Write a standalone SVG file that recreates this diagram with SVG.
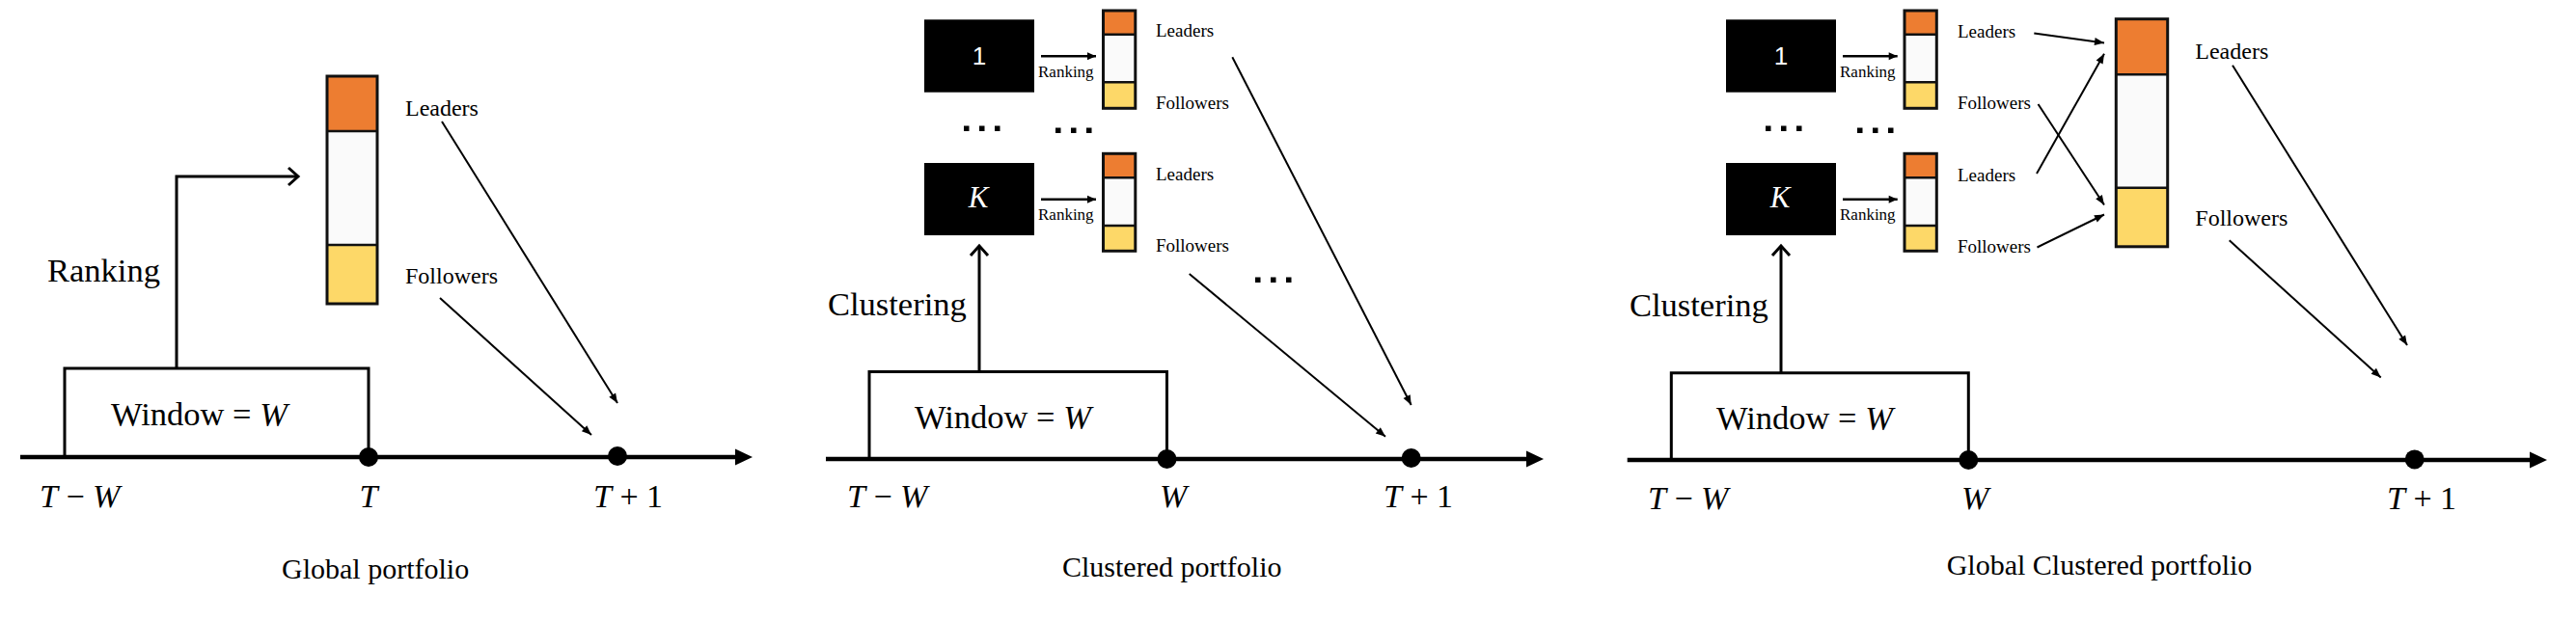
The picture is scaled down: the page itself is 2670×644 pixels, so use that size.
<svg xmlns="http://www.w3.org/2000/svg" width="2670" height="644" viewBox="0 0 2670 644">
<style>
.t{font-family:"Liberation Serif","Times New Roman",serif;fill:#000}
.m{font-family:"Liberation Serif","Times New Roman",serif;fill:#000;font-size:34px}
.i{font-style:italic}
.lbl{font-size:24px}
.sl{font-size:19px}
.rk{font-size:17px}
.cap{font-size:30px}
.big{font-size:34.5px}
.ax{stroke:#000;stroke-width:4.5;fill:none}
.win{stroke:#000;stroke-width:3;fill:none}
.thin{stroke:#000;stroke-width:2;fill:none}
.mid{stroke:#000;stroke-width:2.5;fill:none}
.up{stroke:#000;stroke-width:3;fill:none}
.or{fill:#ED7D31}
.wh{fill:#FAFAFA}
.ye{fill:#FDD868}
.bo{fill:none;stroke:#111;stroke-width:3}
.sep{stroke:#111;stroke-width:2.5}
.blk{fill:#000}
.one{font-family:"Liberation Sans",Arial,sans-serif;font-size:26px;fill:#fff}
.kk{font-family:"Liberation Serif",serif;font-style:italic;font-size:31px;fill:#fff}
</style>
<defs>
<marker id="ah" markerUnits="userSpaceOnUse" markerWidth="20" markerHeight="20" viewBox="0 0 20 20" refX="18" refY="10" orient="auto">
<path d="M8,6 L18,10 L8,14 Z" fill="#000"/>
</marker>
<marker id="rk" markerUnits="userSpaceOnUse" markerWidth="20" markerHeight="20" viewBox="0 0 20 20" refX="18" refY="10" orient="auto">
<path d="M9,6 L18,10 L9,14 Z" fill="#000"/>
</marker>
<marker id="op" markerUnits="userSpaceOnUse" markerWidth="24" markerHeight="24" viewBox="0 0 24 24" refX="21" refY="12" orient="auto">
<path d="M11,3 L21,12 L11,21" fill="none" stroke="#000" stroke-width="3"/>
</marker>
<marker id="ax" markerUnits="userSpaceOnUse" markerWidth="24" markerHeight="24" viewBox="0 0 24 24" refX="10" refY="12" orient="auto">
<path d="M0,3.5 L18,12 L0,20.5 Z" fill="#000"/>
</marker>
</defs>

<!-- ================= Panel 1: Global portfolio ================= -->
<g id="p1-timeline">
<line class="ax" x1="21" y1="474" x2="772" y2="474" marker-end="url(#ax)"/>
<circle cx="382" cy="474" r="10" fill="#000"/>
<circle cx="640" cy="473" r="10" fill="#000"/>
<text class="m" x="41" y="526"><tspan class="i">T</tspan> − <tspan class="i">W</tspan></text>
<text class="m i" x="382" y="526" text-anchor="middle">T</text>
<text class="m" x="615" y="526"><tspan class="i">T</tspan> + 1</text>
</g>
<g id="p1-window">
<path class="win" d="M67,474 V382 H382 V474"/>
<text class="t big" x="115" y="441">Window = <tspan class="i">W</tspan></text>
</g>
<g id="p1-bar">
<rect class="or" x="339" y="79" width="52" height="57"/>
<rect class="wh" x="339" y="136" width="52" height="118"/>
<rect class="ye" x="339" y="254" width="52" height="61"/>
<line class="sep" x1="339" y1="136" x2="391" y2="136"/>
<line class="sep" x1="339" y1="254" x2="391" y2="254"/>
<rect class="bo" x="339" y="79" width="52" height="236"/>
<text class="t lbl" x="420" y="120">Leaders</text>
<text class="t lbl" x="420" y="294">Followers</text>
</g>
<text id="p1-ranking" class="t big" x="49" y="292">Ranking</text>
<text id="p1-caption" class="t cap" x="292" y="600">Global portfolio</text>

<!-- ================= Panel 2: Clustered portfolio ================= -->
<g id="p2-timeline">
<line class="ax" x1="856" y1="476" x2="1592" y2="476" marker-end="url(#ax)"/>
<circle cx="1209.5" cy="476" r="10" fill="#000"/>
<circle cx="1462.7" cy="475" r="10" fill="#000"/>
<text class="m" x="878" y="526"><tspan class="i">T</tspan> − <tspan class="i">W</tspan></text>
<text class="m i" x="1202" y="526">W</text>
<text class="m" x="1434" y="526"><tspan class="i">T</tspan> + 1</text>
</g>
<g id="p2-window">
<path class="win" d="M901,476 V385.5 H1209.5 V476"/>
<text class="t big" x="948" y="443.5">Window = <tspan class="i">W</tspan></text>
</g>
<text id="p2-clustering" class="t big" x="858" y="327">Clustering</text>
<g id="p2-cluster1">
<rect class="blk" x="958" y="20.3" width="114" height="75.4"/>
<text class="one" x="1015" y="67" text-anchor="middle">1</text>
</g>
<g id="p2-clusterK">
<rect class="blk" x="958" y="169" width="114" height="75"/>
<text class="kk" x="1014" y="215" text-anchor="middle">K</text>
</g>
<g id="p2-bar1">
<rect class="or" x="1143.5" y="11" width="33.3" height="24.7"/>
<rect class="wh" x="1143.5" y="35.7" width="33.3" height="49.6"/>
<rect class="ye" x="1143.5" y="85.3" width="33.3" height="27"/>
<line class="sep" x1="1143.5" y1="35.7" x2="1176.8" y2="35.7"/>
<line class="sep" x1="1143.5" y1="85.3" x2="1176.8" y2="85.3"/>
<rect class="bo" x="1143.5" y="11" width="33.3" height="101.3"/>
<text class="t sl" x="1198" y="38">Leaders</text>
<text class="t sl" x="1198" y="112.5">Followers</text>
</g>
<g id="p2-barK">
<rect class="or" x="1143.5" y="159.3" width="33.3" height="25"/>
<rect class="wh" x="1143.5" y="184.3" width="33.3" height="49.7"/>
<rect class="ye" x="1143.5" y="234" width="33.3" height="26.3"/>
<line class="sep" x1="1143.5" y1="184.3" x2="1176.8" y2="184.3"/>
<line class="sep" x1="1143.5" y1="234" x2="1176.8" y2="234"/>
<rect class="bo" x="1143.5" y="159.3" width="33.3" height="101"/>
<text class="t sl" x="1198" y="186.5">Leaders</text>
<text class="t sl" x="1198" y="261">Followers</text>
</g>
<text class="t rk" x="1076" y="80">Ranking</text>
<text class="t rk" x="1076" y="228.3">Ranking</text>
<g id="p2-dots" fill="#000">
<rect x="999" y="130.5" width="5.5" height="5.5"/><rect x="1015" y="130.5" width="5.5" height="5.5"/><rect x="1031" y="130.5" width="5.5" height="5.5"/>
<rect x="1094" y="132.5" width="5.5" height="5.5"/><rect x="1110" y="132.5" width="5.5" height="5.5"/><rect x="1126" y="132.5" width="5.5" height="5.5"/>
<rect x="1301" y="287.5" width="5.5" height="5.5"/><rect x="1317" y="287.5" width="5.5" height="5.5"/><rect x="1333" y="287.5" width="5.5" height="5.5"/>
</g>
<text id="p2-caption" class="t cap" x="1101" y="597.5">Clustered portfolio</text>

<!-- ================= Panel 3: Global Clustered portfolio ================= -->
<g id="p3-timeline">
<line class="ax" x1="1686.7" y1="477" x2="2632" y2="477" marker-end="url(#ax)"/>
<circle cx="2040.3" cy="477" r="10" fill="#000"/>
<circle cx="2502.7" cy="476.4" r="10" fill="#000"/>
<text class="m" x="1708" y="527.7"><tspan class="i">T</tspan> − <tspan class="i">W</tspan></text>
<text class="m i" x="2033" y="527.7">W</text>
<text class="m" x="2474" y="527.7"><tspan class="i">T</tspan> + 1</text>
</g>
<g id="p3-window">
<path class="win" d="M1732.3,477 V386.7 H2040.3 V477"/>
<text class="t big" x="1779" y="445">Window = <tspan class="i">W</tspan></text>
</g>
<text id="p3-clustering" class="t big" x="1689" y="328">Clustering</text>
<g id="p3-cluster1">
<rect class="blk" x="1789" y="20.3" width="114" height="75.4"/>
<text class="one" x="1846" y="67" text-anchor="middle">1</text>
</g>
<g id="p3-clusterK">
<rect class="blk" x="1789" y="169" width="114" height="75"/>
<text class="kk" x="1845" y="215" text-anchor="middle">K</text>
</g>
<g id="p3-bar1">
<rect class="or" x="1974" y="11" width="33.3" height="24.7"/>
<rect class="wh" x="1974" y="35.7" width="33.3" height="49.6"/>
<rect class="ye" x="1974" y="85.3" width="33.3" height="27"/>
<line class="sep" x1="1974" y1="35.7" x2="2007.3" y2="35.7"/>
<line class="sep" x1="1974" y1="85.3" x2="2007.3" y2="85.3"/>
<rect class="bo" x="1974" y="11" width="33.3" height="101.3"/>
<text class="t sl" x="2029" y="39.3">Leaders</text>
<text class="t sl" x="2029" y="113.3">Followers</text>
</g>
<g id="p3-barK">
<rect class="or" x="1974" y="159.3" width="33.3" height="25"/>
<rect class="wh" x="1974" y="184.3" width="33.3" height="49.7"/>
<rect class="ye" x="1974" y="234" width="33.3" height="26.3"/>
<line class="sep" x1="1974" y1="184.3" x2="2007.3" y2="184.3"/>
<line class="sep" x1="1974" y1="234" x2="2007.3" y2="234"/>
<rect class="bo" x="1974" y="159.3" width="33.3" height="101"/>
<text class="t sl" x="2029" y="188.3">Leaders</text>
<text class="t sl" x="2029" y="261.7">Followers</text>
</g>
<text class="t rk" x="1907" y="80">Ranking</text>
<text class="t rk" x="1907" y="228.3">Ranking</text>
<g id="p3-dots" fill="#000">
<rect x="1830" y="130.5" width="5.5" height="5.5"/><rect x="1846" y="130.5" width="5.5" height="5.5"/><rect x="1862" y="130.5" width="5.5" height="5.5"/>
<rect x="1925" y="132.5" width="5.5" height="5.5"/><rect x="1941" y="132.5" width="5.5" height="5.5"/><rect x="1957" y="132.5" width="5.5" height="5.5"/>
</g>
<g id="p3-globalbar">
<rect class="or" x="2193.3" y="19.7" width="53.4" height="57.5"/>
<rect class="wh" x="2193.3" y="77.2" width="53.4" height="117.5"/>
<rect class="ye" x="2193.3" y="194.7" width="53.4" height="61.1"/>
<line class="sep" x1="2193.3" y1="77.2" x2="2246.7" y2="77.2"/>
<line class="sep" x1="2193.3" y1="194.7" x2="2246.7" y2="194.7"/>
<rect class="bo" x="2193.3" y="19.7" width="53.4" height="236.1"/>
<text class="t lbl" x="2275.3" y="60.8">Leaders</text>
<text class="t lbl" x="2275.3" y="234">Followers</text>
</g>
<text id="p3-caption" class="t cap" x="2017.7" y="596">Global Clustered portfolio</text>

<!-- ================= Connectors ================= -->
<g id="connectors">
<polyline class="up" points="183,382 183,183 309,183" marker-end="url(#op)"/>
<line class="thin" x1="458" y1="126" x2="640" y2="418" marker-end="url(#ah)"/>
<line class="thin" x1="456" y1="309" x2="613" y2="451" marker-end="url(#ah)"/>

<line class="up" x1="1015" y1="385.5" x2="1015" y2="255" marker-end="url(#op)"/>
<line class="mid" x1="1079" y1="58.3" x2="1136" y2="58.3" marker-end="url(#rk)"/>
<line class="mid" x1="1079" y1="206.7" x2="1136" y2="206.7" marker-end="url(#rk)"/>
<line class="thin" x1="1277.3" y1="59.2" x2="1462.7" y2="420" marker-end="url(#ah)"/>
<line class="thin" x1="1232.7" y1="284" x2="1436" y2="452.8" marker-end="url(#ah)"/>

<line class="up" x1="1846" y1="386.7" x2="1846" y2="255" marker-end="url(#op)"/>
<line class="mid" x1="1910" y1="58.3" x2="1966.7" y2="58.3" marker-end="url(#rk)"/>
<line class="mid" x1="1910" y1="206.7" x2="1966.7" y2="206.7" marker-end="url(#rk)"/>
<line class="thin" x1="2108.3" y1="34.5" x2="2181" y2="44.4" marker-end="url(#ah)"/>
<line class="thin" x1="2112.5" y1="108" x2="2181" y2="212.5" marker-end="url(#ah)"/>
<line class="thin" x1="2111" y1="180" x2="2181" y2="55.7" marker-end="url(#ah)"/>
<line class="thin" x1="2111.5" y1="256.5" x2="2181" y2="222.5" marker-end="url(#ah)"/>
<line class="thin" x1="2314" y1="67.8" x2="2495" y2="358" marker-end="url(#ah)"/>
<line class="thin" x1="2310.7" y1="249.3" x2="2467.7" y2="391.4" marker-end="url(#ah)"/>
</g>
</svg>
